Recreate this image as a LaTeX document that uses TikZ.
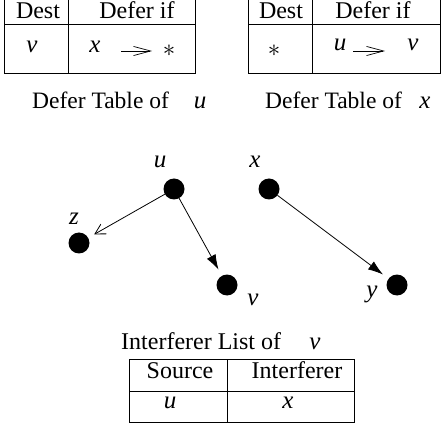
\documentclass[tikz,border=0pt]{standalone}
\usepackage{fontspec}
\setmainfont{Liberation Serif}
\usetikzlibrary{arrows.meta}

\begin{document}
\begin{tikzpicture}[
    txt/.style={font=\fontsize{24}{28}\selectfont, inner sep=0pt, anchor=base},
    tabletitle/.style={font=\fontsize{23.5}{28}\selectfont, inner sep=0pt, anchor=base west},
    var/.style={font=\fontsize{25}{30}\selectfont\itshape, inner sep=0pt, anchor=base},
    dot/.style={circle, fill=black, minimum size=21pt, inner sep=0pt, outer sep=0pt},
    grid/.style={line width=0.9pt},
    defer/.style={line width=0.7pt, -{Straight Barb[length=6mm,width=3.2mm]}},
    link/.style={line width=0.8pt, -{Latex[length=5.3mm,width=3.5mm,fill=black]}},
    openlink/.style={line width=0.8pt, -{Straight Barb[length=3.5mm,width=3.9mm]}}]
\useasboundingbox (0pt,0pt) rectangle (441pt,-427pt);

% defer table of u
\draw[grid] (4pt,3pt) rectangle (195pt,-73pt);
\draw[grid] (4pt,-24pt) -- (195pt,-24pt);
\draw[grid] (68pt,3pt) -- (68pt,-73pt);
\node[txt] (udest) at (38pt,-19pt) {Dest};
\node[txt] (udef) at (137pt,-19pt) {Defer if};
\node[var] (uv) at (32pt,-53pt) {v};
\node[var] (ux) at (95pt,-53pt) {x};
\node[txt] (ustar) at (169pt,-57pt) {$\ast$};
\coordinate (ua) at (121pt,-51pt);
\coordinate (ub) at (152pt,-51pt);
\draw[defer] (ua) -- (ub);
\node[tabletitle] (utitle) at (32pt,-109pt) {Defer Table of};
\node[var] (utitleu) at (200pt,-109pt) {u};

% defer table of x
\draw[grid] (248pt,3pt) rectangle (440pt,-73pt);
\draw[grid] (248pt,-24pt) -- (440pt,-24pt);
\draw[grid] (312pt,3pt) -- (312pt,-73pt);
\node[txt] (xdest) at (281pt,-19pt) {Dest};
\node[txt] (xdef) at (373pt,-19pt) {Defer if};
\node[txt] (xstar) at (274pt,-57pt) {$\ast$};
\node[var] (xu) at (340pt,-51pt) {u};
\node[var] (xv) at (413pt,-51pt) {v};
\coordinate (xa) at (353pt,-51pt);
\coordinate (xb) at (385pt,-51pt);
\draw[defer] (xa) -- (xb);
\node[tabletitle] (xtitle) at (265pt,-109pt) {Defer Table of};
\node[var] (xtitlex) at (425pt,-109pt) {x};

% graph
\node[dot] (u) at (174pt,-189pt) {};
\node[dot] (x) at (269pt,-189pt) {};
\node[dot, outer sep=7pt] (z) at (79pt,-243pt) {};
\node[dot, outer sep=7pt] (v) at (227pt,-285pt) {};
\node[dot, outer sep=7pt] (y) at (397pt,-285pt) {};
\node[var] (lu) at (160pt,-168pt) {u};
\node[var] (lx) at (255pt,-168pt) {x};
\node[var] (lz) at (74pt,-225pt) {z};
\node[var] (lv) at (253pt,-305pt) {v};
\node[var] (ly) at (372pt,-297pt) {y};
\draw[openlink] (u) -- (z);
\draw[link] (u) -- (v);
\draw[link] (x) -- (y);

% interferer list of v
\node[txt, anchor=base west] (ititle) at (121pt,-349pt) {Interferer List of};
\node[var] (ititlev) at (315pt,-349pt) {v};
\draw[grid] (129pt,-359pt) rectangle (354pt,-422pt);
\draw[grid] (129pt,-391pt) -- (354pt,-391pt);
\draw[grid] (227pt,-359pt) -- (227pt,-422pt);
\node[txt] (isrc) at (180pt,-378pt) {Source};
\node[txt] (iint) at (297pt,-378pt) {Interferer};
\node[var] (iu) at (170pt,-408pt) {u};
\node[var] (ix) at (288pt,-408pt) {x};
\end{tikzpicture}
\end{document}
